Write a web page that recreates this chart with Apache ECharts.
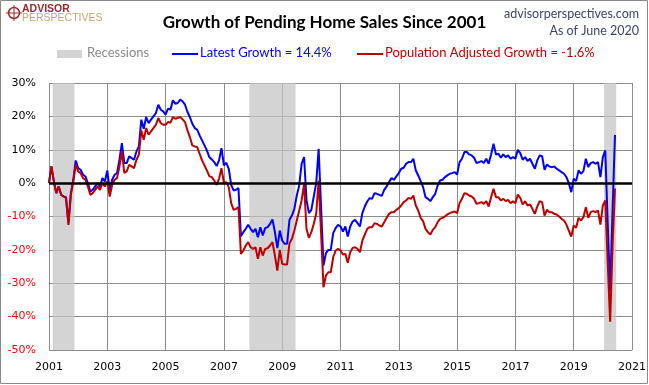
<!DOCTYPE html>
<html>
<head>
<meta charset="utf-8">
<script src="https://cdn.jsdelivr.net/npm/echarts@6/dist/echarts.min.js"></script>
<style>
html,body{margin:0;padding:0;background:#fff;}
#chart{width:649px;height:385px;}
</style>
</head>
<body>
<div id="chart"></div>
<script>
// Monthly data, Jan 2001 .. Jun 2020 (growth since 2001, %)
const startYear = 2001;
const latestGrowth = [
  0, 5, 0.5, -3, -1, -3.5, -4, -4.2, -12, -3, 1, 6.8,
  4.5, 4, 2.5, 2, 0, -2.5, -2, -1, 0, -1, 1.5, 0.5,
  3.8, -2.5, 1, 2.5, 3, 7, 12, 6, 6, 8, 7.5, 7,
  9.5, 11, 19, 16.3, 19.8, 18, 19, 20, 21, 23.5, 22, 21.5,
  20.5, 22.3, 22, 24.8, 23.8, 24, 25, 24.5, 23.5, 21.3, 19.8, 17.8,
  16.5, 16, 14.3, 12.8, 11.3, 9.8, 7.8, 7.1, 6.3, 5.1, 6.8, 10.5,
  5.3, 6.1, 4.3, -0.5, -2.2, -2, -1.5, -15.9, -14.7, -13.7, -12.5, -13.7,
  -14.7, -13.7, -16.2, -13.2, -15.7, -13.5, -13.2, -12.2, -10.9, -14.7, -19.5, -14.2,
  -17.2, -18.2, -18.2, -11, -9.7, -7.7, -3.7, -0.7, 5.8, 7.8, -5, -9,
  -8, -4, 0, 10.3, -7, -24.7, -21, -20, -20, -15, -13.5, -12.5,
  -13, -14.5, -13, -16, -13, -11.5, -11, -12, -13, -9, -7, -5.5,
  -4.5, -4.7, -3, -3.2, -3.5, -3.8, -2, -1, 0.3, 1.5, 1, 2,
  3, 4.3, 4.6, 5.8, 6.3, 6.3, 7.3, 3.8, 2.3, 0.6, -1.2, -4.2,
  -4.7, -5.4, -4.2, -3.2, -0.7, 0.8, 1, 1.8, 2.3, 2.8, 3, 3.3,
  2.6, 6.3, 7.3, 9.3, 9.3, 8.6, 8.3, 7.6, 6, 6.3, 6.6, 6,
  7.3, 5.8, 8.6, 11.8, 8.6, 8.8, 7.6, 8.6, 7.8, 8.3, 7.3, 7.8,
  7.3, 10, 9, 7, 7.8, 6.6, 7.3, 5.8, 4.3, 6.8, 8.3, 8.1,
  4, 5.6, 5, 4.8, 5, 4.3, 3.8, 3.3, 2.8, 1.8, 0, -2.7,
  1.3, 0.6, 3.8, 2.8, 3.6, 7.3, 4.8, 6, 6.3, 5.8, 6.3, 1.8,
  7.8, 9.8, -12, -32.5, -8, 14.4
];
const popAdjGrowth = [
  0, 5, 0.5, -3, -1, -3.5, -4, -4.5, -12.5, -3.5, 0.5, 5.5,
  3.5, 3, 1.5, 1, -1, -3.5, -3, -2, -1, -2, 0, -1,
  0.5, -4, -0.5, 1, 1.5, 5, 9.5, 3.1, 3.5, 5.5, 5, 4.5,
  7, 8.5, 15.8, 13, 16.5, 14.5, 15.5, 16.5, 17.5, 19.5, 18, 17.5,
  17.5, 18.3, 18.1, 19.8, 19.3, 19.5, 19.8, 19.1, 18.3, 15.8, 13.8, 11.3,
  11, 10.8, 8.8, 6.8, 5.3, 3.8, 2.1, 1.8, 0.8, -0.5, 1.3, 4.5,
  0.1, 0.3, -1.2, -6, -8, -7.7, -7.2, -21.2, -20.2, -18.7, -17.7, -19.2,
  -19.7, -19.2, -22.7, -19.2, -21.7, -19.7, -19.5, -18.7, -17.7, -21.7, -26.2, -20,
  -24.2, -24.4, -24.4, -18, -16.7, -14.2, -11.2, -8.2, -5.2, -0.2, -13.7, -16.4,
  -14.7, -12.2, -9.2, 0.8, -15, -31.2, -27.7, -26.7, -26.7, -22.2, -20.2, -19.7,
  -20.2, -21.4, -21.2, -23.9, -20.7, -19.4, -19.2, -19.7, -20.7, -17.2, -15.4, -13.7,
  -13.2, -13.2, -12, -12.2, -12.7, -13, -11.7, -10.4, -9.2, -8.7, -8.7, -8,
  -7.5, -6.7, -5.7, -5.2, -4.4, -4.7, -3.7, -6.7, -8.2, -10.4, -11.4, -13.7,
  -14.7, -15.4, -14, -13.2, -11.7, -10.7, -10.4, -10, -9.4, -9, -8.7, -8.5,
  -9, -6, -4.7, -3, -3.2, -3.7, -4, -4.7, -6.2, -6, -5.7, -6.2,
  -5.4, -7, -4.2, -1.7, -4.2, -4.2, -5.2, -4.7, -5.4, -5, -6, -5.4,
  -6, -3.4, -4.4, -6.4, -5.4, -6.7, -6.4, -7.7, -9.2, -7, -5.4, -5.7,
  -9.7, -8, -8.7, -8.7, -9.2, -9.4, -10, -10.7, -11.2, -12.4, -14.2, -16,
  -12.7, -13.4, -10.4, -11.2, -10.2, -7.2, -10.4, -8.7, -8.4, -8.7, -8.2, -12.4,
  -6.7, -5.2, -24, -41.5, -19, -1.6
];
// Recession periods [start year, start month, end year, end month]
const recessions = [
  [2001, 3, 2001, 11],
  [2007, 12, 2009, 6],
  [2020, 2, 2020, 6]
];
const yTicks = [-50, -40, -30, -20, -10, 0, 10, 20, 30];
const xTicks = [2001, 2003, 2005, 2007, 2009, 2011, 2013, 2015, 2017, 2019, 2021];
const titleText = 'Growth of Pending Home Sales Since 2001';
const latestLabel = 'Latest Growth = 14.4%';
const popLabel = 'Population Adjusted Growth = -1.6%';

const toX = (i) => startYear + i / 12;
const blueData = latestGrowth.map((v, i) => [toX(i), v]);
const redData = popAdjGrowth.map((v, i) => [toX(i), v]);
// shade each recession from half a month before its first month to half a month after its last
const recAreas = recessions.map(r => [
  { xAxis: r[0] + (r[1] - 1.5) / 12 },
  { xAxis: r[2] + (r[3] - 0.5) / 12 }
]);

const chart = echarts.init(document.getElementById('chart'), null, { renderer: 'canvas' });
const legendFont = '13px Lato';
chart.setOption({
  animation: false,
  backgroundColor: '#ffffff',
  grid: { left: 49, right: 17, top: 83, bottom: 35 },
  title: {
    text: titleText, left: 'center', top: 9,
    textStyle: { fontFamily: 'Lato', fontWeight: 'bold', fontSize: 17, color: '#000' }
  },
  xAxis: {
    type: 'value', min: xTicks[0], max: xTicks[xTicks.length - 1], interval: 2,
    axisLine: { show: false }, axisTick: { show: false },
    splitLine: { show: true, lineStyle: { color: '#8c8c8c', width: 1 } },
    axisLabel: { formatter: v => String(Math.round(v)), fontFamily: 'DejaVu Sans', fontSize: 11, color: '#000', margin: 12 }
  },
  yAxis: {
    type: 'value', min: yTicks[0], max: yTicks[yTicks.length - 1], interval: 10,
    axisLine: { show: false }, axisTick: { show: false },
    splitLine: { show: true, lineStyle: { color: '#8c8c8c', width: 1 } },
    axisLabel: {
      formatter: v => v + '%', fontFamily: 'DejaVu Sans', fontSize: 11, margin: 13,
      color: v => (Number(v) < 0 ? '#ff0000' : '#000000')
    }
  },
  series: [
    {
      type: 'line', name: 'Recessions', data: [], silent: true,
      markArea: { silent: true, itemStyle: { color: 'rgba(196,196,196,0.72)' }, data: recAreas }
    },
    {
      type: 'line', name: latestLabel, data: blueData, showSymbol: false, symbol: 'none',
      lineStyle: { color: '#0000ff', width: 2 }, z: 3
    },
    {
      type: 'line', name: popLabel, data: redData, showSymbol: false, symbol: 'none',
      lineStyle: { color: '#c00000', width: 2 }, z: 4,
      markLine: {
        silent: true, symbol: 'none', label: { show: false },
        lineStyle: { color: '#000', width: 2.5, type: 'solid' },
        data: [{ yAxis: 0 }]
      }
    }
  ],
  graphic: [
    { type: 'rect', shape: { x: 0.5, y: 0.5, width: 647, height: 383 }, style: { fill: 'none', stroke: '#8a8a8a', lineWidth: 1 }, silent: true },
    // logo
    { type: 'circle', shape: { cx: 14, cy: 13, r: 5.5 }, style: { fill: 'none', stroke: '#9b2b2b', lineWidth: 1.5 } },
    { type: 'line', shape: { x1: 14, y1: 5, x2: 14, y2: 21 }, style: { stroke: '#9b2b2b', lineWidth: 1 } },
    { type: 'line', shape: { x1: 6, y1: 13, x2: 22, y2: 13 }, style: { stroke: '#9b2b2b', lineWidth: 1 } },
    { type: 'text', left: 22, top: 4, style: { text: 'ADVISOR', font: 'bold 10.5px "Liberation Sans"', fill: '#9b2b2b' } },
    { type: 'text', left: 22, top: 13, style: { text: 'PERSPECTIVES', font: '10.5px "Liberation Sans Narrow", "Liberation Sans"', fill: '#c9a56a' } },
    // top right
    { type: 'text', right: 10, top: 7, style: { text: 'advisorperspectives.com', font: '12.5px Lato', fill: '#3d4466', textAlign: 'right' } },
    { type: 'text', right: 10, top: 24, style: { text: 'As of June 2020', font: '12.5px Lato', fill: '#3d4466', textAlign: 'right' } },
    // legend
    { type: 'rect', shape: { x: 57, y: 50, width: 25, height: 8 }, style: { fill: '#d3d3d3' } },
    { type: 'text', left: 87, top: 46, style: { text: 'Recessions', font: legendFont, fill: '#8a8a8a' } },
    { type: 'line', shape: { x1: 172, y1: 54, x2: 198, y2: 54 }, style: { stroke: '#0000ff', lineWidth: 2 } },
    { type: 'text', left: 200, top: 46, style: { text: latestLabel, font: legendFont, fill: '#0000ff' } },
    { type: 'line', shape: { x1: 357, y1: 54, x2: 383, y2: 54 }, style: { stroke: '#c00000', lineWidth: 2 } },
    { type: 'text', left: 385, top: 46, style: { text: popLabel, font: legendFont, fill: '#c00000' } }
  ]
});
</script>
</body>
</html>
